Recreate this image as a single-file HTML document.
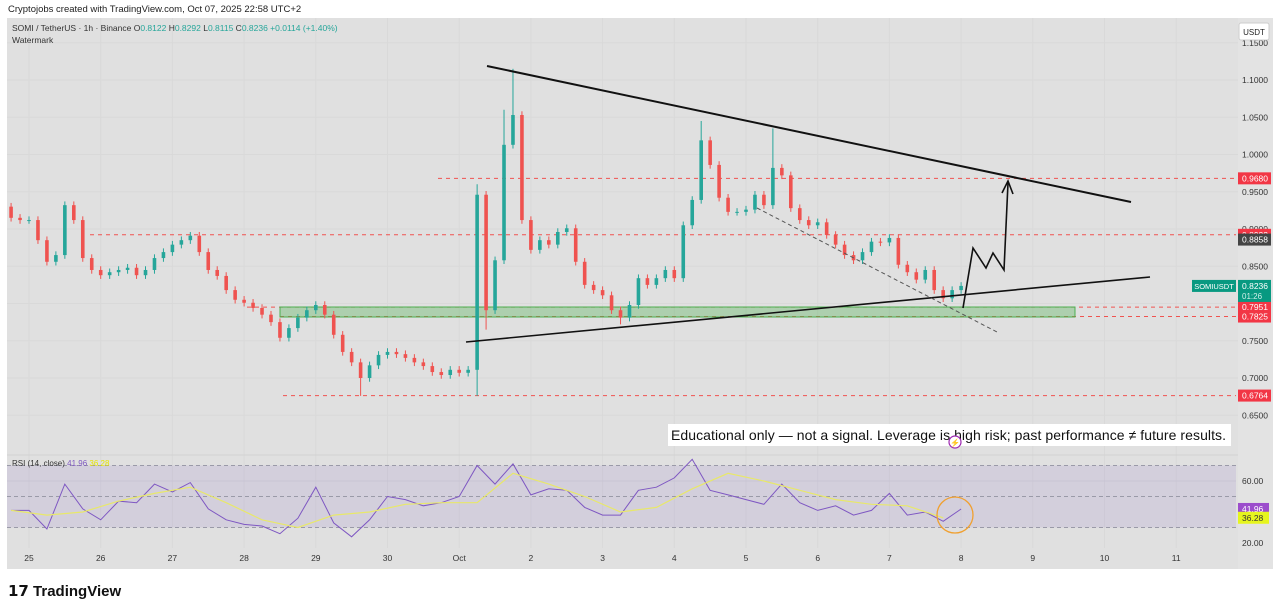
<!DOCTYPE html>
<html><head><meta charset="utf-8">
<style>
html,body{margin:0;padding:0;background:#fff;width:1280px;height:610px;overflow:hidden;font-family:"Liberation Sans",sans-serif}
svg{display:block}
</style></head>
<body>
<svg id="chart" width="1280" height="610" viewBox="0 0 1280 610" xmlns="http://www.w3.org/2000/svg">
<text x="8" y="12" font-size="9.5" fill="#222">Cryptojobs created with TradingView.com, Oct 07, 2025 22:58 UTC+2</text>
<rect x="7" y="18" width="1266" height="551" fill="#e0e0e0"/>
<rect x="1238" y="18" width="35" height="551" fill="#e3e3e3"/>
<g id="grid"></g>
<g id="levels"></g>
<rect x="280" y="307" width="795" height="10" fill="rgba(76,175,80,0.35)" stroke="#4caf50" stroke-width="1"/>
<g id="candles"></g>
<line x1="487" y1="66" x2="1131" y2="202" stroke="#111" stroke-width="2"/>
<line x1="466" y1="342" x2="1150" y2="277" stroke="#111" stroke-width="1.6"/>
<line x1="757" y1="208" x2="997" y2="332" stroke="#555" stroke-width="1" stroke-dasharray="4,3"/>
<polyline points="963,308 973,248 986,268 993,253 1004,270 1008,183" fill="none" stroke="#111" stroke-width="1.6"/>
<polyline points="1002,193 1008,181 1013,194" fill="none" stroke="#111" stroke-width="1.6"/>
<g id="axis"></g>
<text x="12" y="31" font-size="8.5" fill="#333">SOMI / TetherUS · 1h · Binance  O<tspan fill="#26a69a">0.8122</tspan> H<tspan fill="#26a69a">0.8292</tspan> L<tspan fill="#26a69a">0.8115</tspan> C<tspan fill="#26a69a">0.8236 +0.0114 (+1.40%)</tspan></text>
<text x="12" y="43" font-size="8.5" fill="#333">Watermark</text>
<rect x="1239" y="23" width="30" height="17" rx="2" fill="#fff" stroke="#ccc"/>
<text x="1254" y="35" font-size="8" fill="#222" text-anchor="middle">USDT</text>
<rect x="668" y="424" width="563" height="22" fill="#fff"/>
<text x="671" y="440" font-size="14" textLength="555" fill="#111">Educational only — not a signal. Leverage is high risk; past performance ≠ future results.</text>
<circle cx="955" cy="442" r="6" fill="#fff" stroke="#9c27b0" stroke-width="1.2"/>
<text x="955" y="445.5" font-size="8" fill="#9c27b0" text-anchor="middle">⚡</text>
<line x1="7" y1="455" x2="1238" y2="455" stroke="#d2d2d2"/>
<rect x="7" y="465.5" width="1229" height="62" fill="rgba(126,87,194,0.12)"/>
<g id="rsi"></g>
<text x="12" y="466" font-size="8" fill="#333">RSI (14, close) <tspan fill="#7e57c2">41.96</tspan> <tspan fill="#e6e600">36.28</tspan></text>
<circle cx="955" cy="515" r="18" fill="none" stroke="#f0a030" stroke-width="1.3"/>
<g id="xaxis"></g>
<text x="8" y="596" font-size="15" font-weight="bold" fill="#111">𝟭𝟳 TradingView</text>
</svg>
<script>
// ---- data ----
var closes=[0.915,0.912,0.912,0.885,0.856,0.865,0.932,0.912,0.861,0.845,0.838,0.842,0.845,0.848,0.838,0.845,0.861,0.869,0.879,0.885,0.891,0.869,0.845,0.837,0.818,0.805,0.801,0.794,0.785,0.775,0.754,0.767,0.781,0.791,0.798,0.785,0.758,0.735,0.721,0.700,0.717,0.731,0.735,0.732,0.727,0.721,0.716,0.708,0.704,0.711,0.707,0.711,0.946,0.791,0.858,1.013,1.053,0.912,0.872,0.885,0.879,0.896,0.901,0.856,0.825,0.818,0.811,0.791,0.781,0.798,0.834,0.825,0.834,0.845,0.834,0.905,0.939,1.019,0.986,0.942,0.923,0.923,0.926,0.946,0.932,0.982,0.972,0.928,0.912,0.905,0.909,0.892,0.879,0.865,0.858,0.869,0.883,0.882,0.888,0.852,0.842,0.832,0.845,0.818,0.807,0.818,0.8236];
var firstOpen=0.93;
var wickHighIdx=[55,56,77,85,52];
var wickHighVal=[1.06,1.115,1.045,1.035,0.96];
var wickLowIdx=[39,52,68,53];
var wickLowVal=[0.676,0.676,0.772,0.765];
var rsiVals=[41,41,29,58,42,35,47,46,58,53,59,42,35,32,31,26,36,56,33,24,35,50,48,44,46,50,70,58,71,51,55,54,43,38,38,54,56,62,74,54,51,48,45,58,46,41,44,38,41,52,38,40,34,41.96];
var rsiMa=[41,38,40,47,52,56,46,35,30,38,40,45,46,46,65,58,50,40,43,55,65,60,54,48,45,44,36.28];
var priceTicks=[1.15,1.10,1.05,1.00,0.95,0.90,0.85,0.80,0.75,0.70,0.65];
var dayLabels=["25","26","27","28","29","30","Oct","2","3","4","5","6","7","8","9","10","11"];
var levelPrices=[0.968,0.8922,0.7951,0.7825,0.6764];
var levelStart=[438,90,247,280,283];
var rsiTicks=[60,20];
// ---- scales ----
function yP(p){return 378-(p-0.70)*745;}
function xH(h){return 29+h*2.9875;}
function yR(v){return 481-(v-60)*1.55;}
var NS="http://www.w3.org/2000/svg";
function mk(tag,attrs,parent){var e=document.createElementNS(NS,tag);for(var k in attrs)e.setAttribute(k,attrs[k]);parent.appendChild(e);return e;}
var G=document.getElementById('grid'),C=document.getElementById('candles'),A=document.getElementById('axis'),R=document.getElementById('rsi'),X=document.getElementById('xaxis'),L=document.getElementById('levels');
priceTicks.forEach(function(p){
  var y=yP(p);
  var g=mk('line',{x1:7,x2:1238,y1:y,y2:y,stroke:'#d9d9d9','stroke-width':1},G);
  
  
  var t=mk('text',{x:1242,y:y+3,'font-size':8.5,fill:'#333'},A);
  t.textContent=p.toFixed(4);
  
  
});
dayLabels.forEach(function(d,i){
  var x=xH(i*24);
  var g=mk('line',{x1:x,x2:x,y1:18,y2:548,stroke:'#d9d9d9','stroke-width':1},G);
  
  
  var t=mk('text',{x:x,y:561,'font-size':8.5,fill:'#333','text-anchor':'middle'},X);
  t.textContent=d;
  
  
});
levelPrices.forEach(function(p,i){
  var y=yP(p);
  var l=mk('line',{x1:levelStart[i],x2:1236,y1:y,y2:y,stroke:'#ef5350','stroke-width':1,'stroke-dasharray':'4,4'},L);
  
  
  var r=mk('rect',{x:1238,y:y-6,width:33,height:12,fill:'#f23645'},A);
  
  
  var t=mk('text',{x:1242,y:y+3,'font-size':8.5,fill:'#fff'},A);
  t.textContent=p.toFixed(4);
  
  
});
(function(){
  var y=yP(0.8858);
  var r=mk('rect',{x:1238,y:y-6,width:33,height:12,fill:'#444'},A);
  
  
  var t=mk('text',{x:1242,y:y+3,'font-size':8.5,fill:'#fff'},A);
  t.textContent='0.8858';
  
  
  var last=closes[closes.length-1];var yl=yP(last);
  var r2=mk('rect',{x:1238,y:yl-6,width:33,height:22,fill:'#089981'},A);
  
  
  var t2=mk('text',{x:1242,y:yl+3,'font-size':8.5,fill:'#fff'},A);
  t2.textContent=last.toFixed(4);
  
  
  var t3=mk('text',{x:1242,y:yl+13,'font-size':8,fill:'#cfeee8'},A);
  t3.textContent='01:26';
  
  
  var r4=mk('rect',{x:1192,y:yl-6,width:44,height:12,fill:'#089981'},A);
  
  
  var t4=mk('text',{x:1214,y:yl+3,'font-size':7.5,fill:'#fff','text-anchor':'middle'},A);
  t4.textContent='SOMIUSDT';
  
  
})();
closes.forEach(function(c,i){
  var o=i===0?firstOpen:closes[i-1];
  var hi=Math.max(o,c)+0.005, lo=Math.min(o,c)-0.005;
  var hj=wickHighIdx.indexOf(i); if(hj>=0)hi=wickHighVal[hj];
  var lj=wickLowIdx.indexOf(i); if(lj>=0)lo=wickLowVal[lj];
  var x=xH(-6+i*3), col=c>=o?'#26a69a':'#ef5350';
  var w=mk('line',{x1:x,x2:x,y1:yP(hi),y2:yP(lo),stroke:col,'stroke-width':1},C);
  
  
  var top=yP(Math.max(o,c)),bot=yP(Math.min(o,c));
  var b=mk('rect',{x:x-1.8,y:top,width:3.6,height:Math.max(1,bot-top),fill:col},C);
  
  
});
[70,50,30].forEach(function(v){
  var l=mk('line',{x1:7,x2:1236,y1:yR(v),y2:yR(v),stroke:'#9a9aa8','stroke-width':1,'stroke-dasharray':'4,3'},R);
  
  
});
var sl=mk('line',{x1:7,x2:1236,y1:yR(60),y2:yR(60),stroke:'#c8c4d4','stroke-width':1},R);


rsiTicks.forEach(function(v){
  var t=mk('text',{x:1242,y:yR(v)+3,'font-size':8.5,fill:'#333'},A);
  t.textContent=v.toFixed(2);
  
  
});
var rp=rsiVals.map(function(v,i){return xH(-6+i*6).toFixed(1)+','+yR(v).toFixed(1);}).join(' ');
var rl=mk('polyline',{points:rp,fill:'none',stroke:'#7e57c2','stroke-width':1},R);


var mp=rsiMa.map(function(v,i){return xH(-6+i*12).toFixed(1)+','+yR(v).toFixed(1);}).join(' ');
var ml=mk('polyline',{points:mp,fill:'none',stroke:'#e8e86a','stroke-width':1.2},R);


[[rsiVals[rsiVals.length-1],'#9c4dcc','#fff'],[rsiMa[rsiMa.length-1],'#e6f51e','#333']].forEach(function(a){
  var y=yR(a[0]);
  var r=mk('rect',{x:1238,y:y-6,width:31,height:12,fill:a[1]},A);
  
  
  var t=mk('text',{x:1242,y:y+3,'font-size':8.5,fill:a[2]},A);
  t.textContent=a[0].toFixed(2);
  
  
});
</script>
</body></html>
